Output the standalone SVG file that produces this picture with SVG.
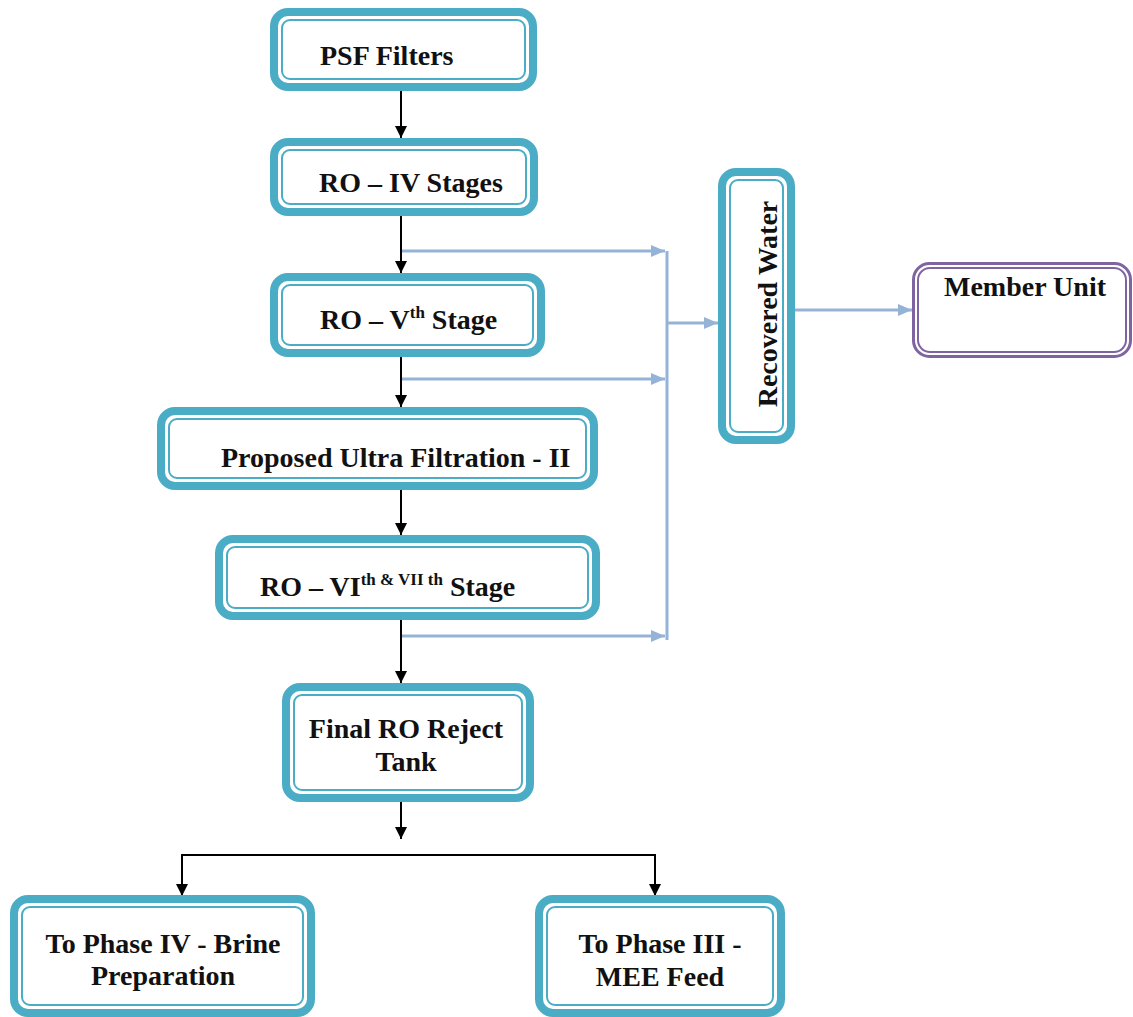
<svg xmlns="http://www.w3.org/2000/svg" width="1133" height="1017" viewBox="0 0 1133 1017">
<defs>
<marker id="ab" markerWidth="12" markerHeight="12" viewBox="0 0 12 12" refX="12" refY="6" orient="auto" markerUnits="userSpaceOnUse"><path d="M0,0 L12,6 L0,12 Z" fill="#000"/></marker>
<marker id="au" markerWidth="14" markerHeight="12" viewBox="0 0 14 12" refX="14" refY="6" orient="auto" markerUnits="userSpaceOnUse"><path d="M0,0 L14,6 L0,12 Z" fill="#95B3D7"/></marker>
</defs>
<style>
.o{fill:#fff;stroke:#4BACC6;stroke-width:8}
.i{fill:none;stroke:#4BACC6;stroke-width:2}
.po{fill:#fff;stroke:#8064A2;stroke-width:3}
.pi{fill:none;stroke:#8064A2;stroke-width:2}
.t{font-family:"Liberation Serif","Times New Roman",serif;font-weight:bold;font-size:28px;fill:#111}
.s{font-size:17px}
.k{stroke:#000;stroke-width:2;fill:none}
.b{stroke:#95B3D7;stroke-width:3;fill:none}
</style>
<g id="connectors">
<line class="k" x1="401" y1="91" x2="401" y2="138" marker-end="url(#ab)"/>
<line class="k" x1="401" y1="216" x2="401" y2="273" marker-end="url(#ab)"/>
<line class="k" x1="401" y1="357" x2="401" y2="407" marker-end="url(#ab)"/>
<line class="k" x1="401" y1="490" x2="401" y2="535" marker-end="url(#ab)"/>
<line class="k" x1="401" y1="620" x2="401" y2="683" marker-end="url(#ab)"/>
<line class="k" x1="401" y1="802" x2="401" y2="839" marker-end="url(#ab)"/>
<polyline class="k" points="182,895 182,855 655,855 655,895"/>
<line class="k" x1="182" y1="860" x2="182" y2="896" marker-end="url(#ab)"/>
<line class="k" x1="655" y1="860" x2="655" y2="896" marker-end="url(#ab)"/>
<line class="b" x1="402" y1="251" x2="665" y2="251" marker-end="url(#au)"/>
<line class="b" x1="402" y1="379" x2="665" y2="379" marker-end="url(#au)"/>
<line class="b" x1="402" y1="636" x2="665" y2="636" marker-end="url(#au)"/>
<line class="b" x1="667" y1="251" x2="667" y2="640"/>
<line class="b" x1="667" y1="323" x2="718" y2="323" marker-end="url(#au)"/>
<line class="b" x1="795" y1="310" x2="912" y2="310" marker-end="url(#au)"/>
</g>
<g id="psf">
<rect class="o" x="274" y="12" width="259" height="75" rx="14"/>
<rect class="i" x="282" y="20" width="243" height="59" rx="8"/>
<text class="t" x="320" y="65">PSF Filters</text>
</g>
<g id="ro4">
<rect class="o" x="274" y="142" width="260" height="70" rx="14"/>
<rect class="i" x="282" y="150" width="244" height="54" rx="8"/>
<text class="t" x="319" y="192">RO – IV Stages</text>
</g>
<g id="ro5">
<rect class="o" x="274" y="277" width="267" height="76" rx="14"/>
<rect class="i" x="282" y="285" width="251" height="60" rx="8"/>
<text class="t" x="320" y="329">RO – V<tspan class="s" dy="-11">th</tspan><tspan dy="11"> Stage</tspan></text>
</g>
<g id="uf2">
<rect class="o" x="161" y="411" width="433" height="75" rx="14"/>
<rect class="i" x="169" y="419" width="417" height="59" rx="8"/>
<text class="t" x="221" y="467">Proposed Ultra Filtration - II</text>
</g>
<g id="ro67">
<rect class="o" x="219" y="539" width="377" height="77" rx="14"/>
<rect class="i" x="227" y="547" width="361" height="61" rx="8"/>
<text class="t" x="260" y="596">RO – VI<tspan class="s" dy="-11">th &amp; VII th</tspan><tspan dy="11"> Stage</tspan></text>
</g>
<g id="final">
<rect class="o" x="286" y="687" width="244" height="111" rx="14"/>
<rect class="i" x="294" y="695" width="228" height="95" rx="8"/>
<text class="t" x="406" y="738" text-anchor="middle">Final RO Reject</text>
<text class="t" x="406" y="771" text-anchor="middle">Tank</text>
</g>
<g id="phase4">
<rect class="o" x="14" y="899" width="297" height="114" rx="14"/>
<rect class="i" x="22" y="907" width="281" height="98" rx="8"/>
<text class="t" x="163" y="953" text-anchor="middle">To Phase IV - Brine</text>
<text class="t" x="163" y="985" text-anchor="middle">Preparation</text>
</g>
<g id="phase3">
<rect class="o" x="539" y="899" width="242" height="114" rx="14"/>
<rect class="i" x="547" y="907" width="226" height="98" rx="8"/>
<text class="t" x="660" y="953" text-anchor="middle">To Phase III -</text>
<text class="t" x="660" y="986" text-anchor="middle">MEE Feed</text>
</g>
<g id="recovered">
<rect class="o" x="722" y="172" width="69" height="268" rx="14"/>
<rect class="i" x="730" y="180" width="53" height="252" rx="8"/>
<text class="t" transform="translate(777,304) rotate(-90)" text-anchor="middle">Recovered Water</text>
</g>
<g id="member">
<rect class="po" x="913.5" y="263.5" width="217" height="93" rx="16"/>
<rect class="pi" x="918" y="268" width="208" height="84" rx="12"/>
<text class="t" x="1025" y="296" text-anchor="middle">Member Unit</text>
</g>
</svg>
